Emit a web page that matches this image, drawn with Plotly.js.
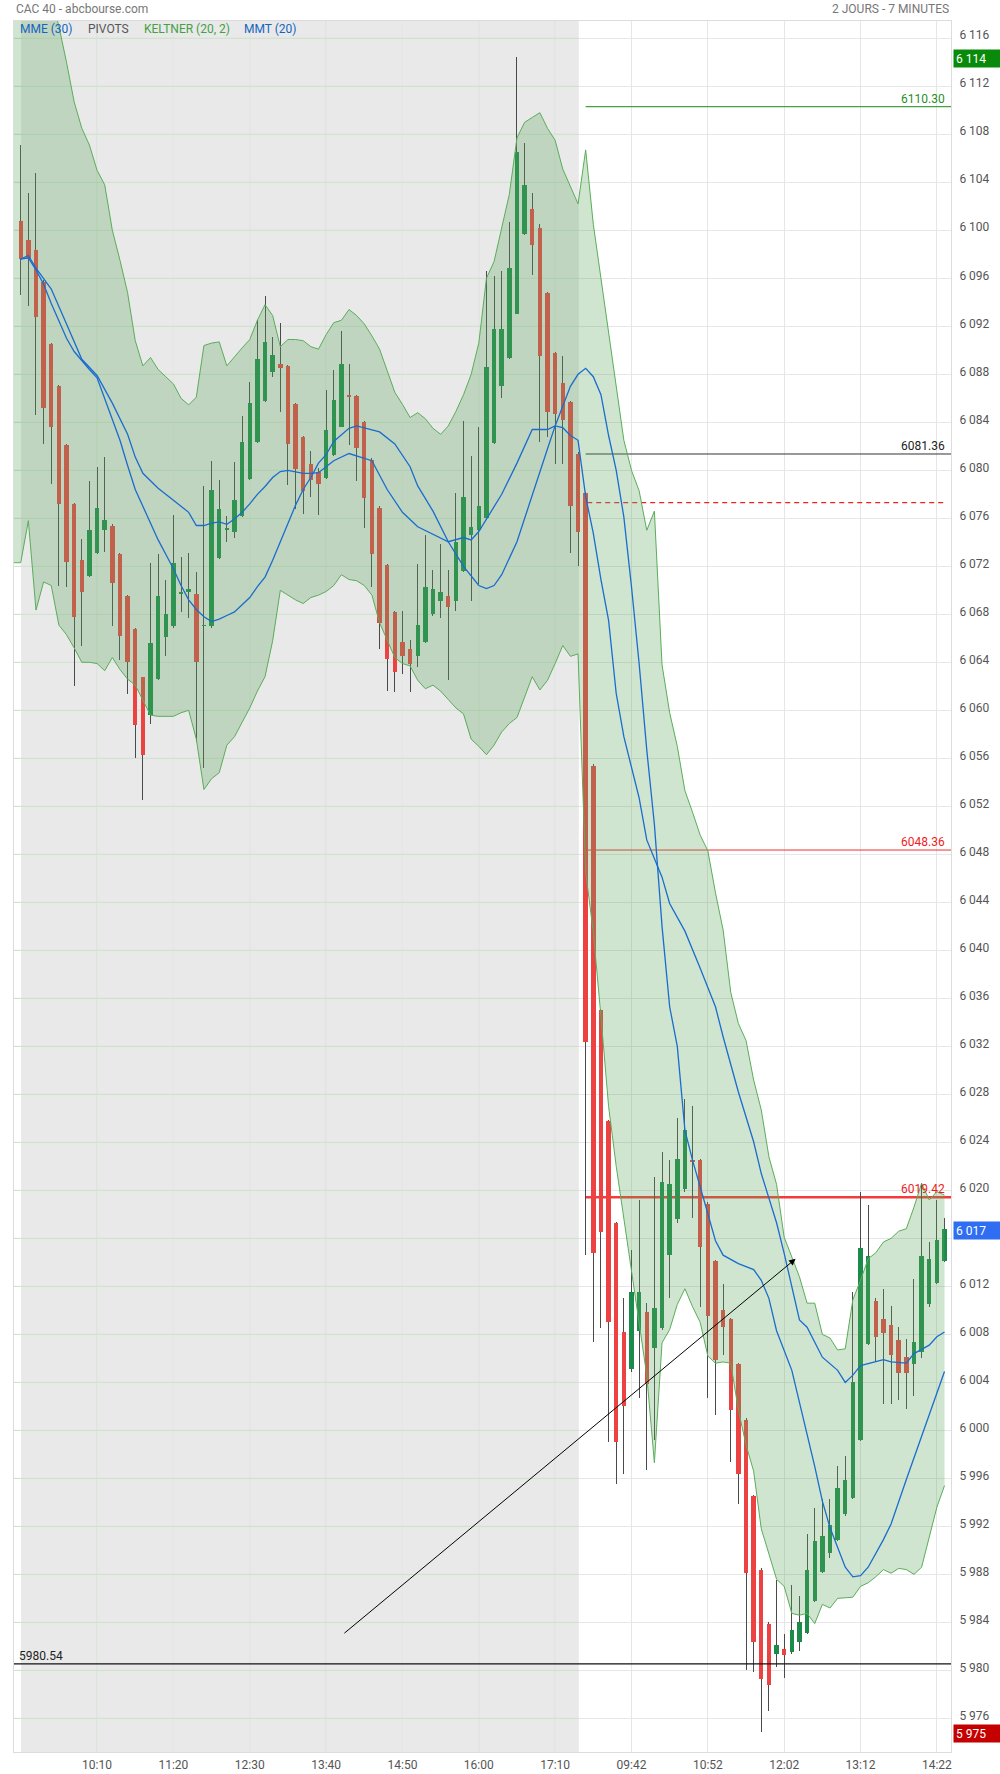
<!DOCTYPE html>
<html><head><meta charset="utf-8">
<script src="https://cdn.plot.ly/plotly-3.0.1.min.js"></script>
<style>html,body{margin:0;padding:0;background:#fff;}#chart{width:1000px;height:1774px;}</style>
</head><body><div id="chart"></div>
<script>
// ---- OHLC, 7-minute candles, index 0 = day 1 09:00, index 74 = day 2 09:00 ----
const opens = [
6100.75,6099.2,6098.4,6095.7,6090.5,6087.0,6082.1,6077.2,6072.5,6071.2,
6073.1,6075.0,6075.4,6073.0,6069.5,6066.8,6062.75,6059.6,6062.6,6066.1,
6067.0,6069.7,6069.9,6069.7,6067.0,6067.0,6072.7,6075.0,6074.9,6076.2,
6079.3,6082.4,6085.8,6088.2,6088.9,6088.7,6085.5,6082.8,6080.5,6079.9,
6079.4,6081.3,6083.65,6086.25,6086.2,6084.0,6080.9,6076.9,6072.15,6068.2,
6065.7,6065.1,6064.5,6065.7,6068.0,6069.1,6069.5,6069.1,6071.6,6074.6,
6075.0,6076.0,6082.3,6087.0,6089.4,6093.05,6099.7,6101.75,6100.2,6094.8,
6089.8,6087.25,6085.7,6081.4,6078.1,6055.4,6035.0,6025.8,6017.3,6008.2,
6005.1,6008.3,6009.9,6006.9,6008.55,6014.6,6017.6,6020.1,6022.5,6022.5,
6018.9,6014.1,6010.0,6009.3,6005.5,6000.9,5994.5,5988.4,5983.9,5981.4,
5981.75,5981.5,5982.4,5983.1,5985.8,5988.2,5989.75,5990.9,5993.0,5994.4,
5999.2,6007.2,6010.8,6009.25,6008.8,6007.5,6006.1,6005.5,6006.5,6010.5,
6012.3,6014.1];
const highs = [
6107.1,6103.1,6104.8,6095.9,6090.6,6087.1,6082.2,6077.3,6074.3,6079.1,
6080.3,6081.1,6075.5,6073.1,6069.6,6066.9,6062.8,6072.3,6073.0,6070.9,
6076.3,6072.8,6073.1,6071.5,6078.7,6080.8,6079.2,6076.2,6080.7,6084.5,
6087.4,6092.5,6094.5,6091.15,6092.3,6088.8,6085.6,6082.9,6081.6,6080.2,
6086.7,6088.4,6091.6,6088.9,6086.3,6084.1,6081.0,6077.0,6072.2,6068.3,
6068.3,6065.9,6072.2,6074.6,6071.7,6073.9,6071.7,6078.1,6084.1,6081.2,
6083.6,6096.6,6096.2,6096.6,6100.65,6114.4,6107.3,6103.1,6100.5,6094.9,
6089.9,6089.5,6085.8,6081.5,6078.2,6055.5,6035.1,6025.9,6017.4,6011.0,
6015.0,6019.2,6010.6,6021.1,6023.2,6022.5,6026.0,6027.6,6027.0,6022.6,
6019.0,6014.2,6012.2,6009.4,6005.6,6001.0,5994.6,5988.5,5984.0,5987.5,
5983.0,5987.1,5986.2,5991.4,5993.5,5994.3,5994.3,5997.0,5997.9,6011.5,
6019.9,6018.8,6011.0,6011.8,6010.4,6008.6,6007.6,6012.6,6020.6,6015.7,
6019.2,6017.7];
const lows = [
6094.6,6093.7,6084.6,6082.2,6078.9,6070.4,6070.3,6062.0,6065.4,6071.1,
6073.0,6073.2,6067.0,6064.2,6061.4,6056.0,6052.5,6058.85,6062.5,6064.55,
6066.9,6068.2,6067.7,6057.4,6055.2,6066.9,6072.6,6074.0,6074.4,6076.1,
6079.2,6082.3,6085.7,6087.8,6084.9,6078.8,6076.75,6076.4,6077.75,6076.3,
6079.3,6081.2,6083.6,6082.1,6079.1,6075.2,6070.3,6065.1,6061.6,6061.5,
6063.0,6061.5,6063.6,6065.6,6067.9,6067.7,6062.5,6068.3,6071.5,6069.15,
6070.5,6075.9,6082.2,6086.0,6089.3,6093.0,6099.6,6096.3,6082.4,6082.8,
6080.55,6080.55,6073.1,6072.05,6014.6,6007.4,6008.5,5999.05,5995.5,5996.4,
6004.9,6002.7,5996.7,5999.2,6008.4,6011.0,6017.3,6019.9,6017.7,6010.3,
6002.7,6001.3,6006.3,5997.4,5993.9,5980.0,5979.9,5974.9,5976.6,5980.3,
5979.4,5981.4,5981.6,5983.0,5985.7,5988.1,5989.4,5990.8,5992.9,5994.3,
5999.1,6007.1,6005.7,6002.2,6002.2,6002.5,6001.75,6002.9,6006.0,6010.3,
6012.2,6014.0];
const closes = [
6097.65,6097.65,6092.8,6085.2,6083.6,6077.2,6072.4,6067.8,6069.9,6075.0,
6076.9,6075.85,6070.6,6066.2,6064.0,6058.75,6056.3,6065.6,6069.5,6068.0,
6072.3,6069.75,6070.1,6064.0,6067.1,6078.4,6076.8,6075.2,6077.5,6082.4,
6085.6,6089.25,6090.7,6089.6,6088.5,6082.2,6080.1,6078.3,6079.2,6078.9,
6083.4,6085.9,6088.9,6086.1,6081.9,6077.7,6073.0,6067.3,6064.3,6063.2,
6064.5,6063.9,6067.1,6070.25,6070.1,6069.9,6068.6,6074.05,6077.75,6075.3,
6077.0,6088.6,6091.8,6091.8,6096.85,6106.5,6103.8,6098.75,6089.5,6084.9,
6084.7,6084.2,6077.0,6074.9,6032.4,6014.75,6016.5,6009.0,5999.05,6002.0,
6011.5,6011.5,6003.9,6010.2,6020.7,6020.5,6022.6,6025.0,6022.4,6015.3,
6009.5,6005.9,6008.6,6001.7,5996.4,5988.1,5982.4,5979.3,5978.8,5982.1,
5981.3,5983.4,5984.0,5988.4,5990.8,5991.2,5992.1,5995.2,5995.9,6004.0,
6015.2,6014.5,6007.75,6008.1,6006.3,6004.8,6004.8,6007.4,6014.5,6014.25,
6015.9,6016.8];

// ---- Keltner (20, 2) bands, from index -1 to 121 ----
const keltnerUpper = [
6123,6123,6122.5,6122,6121,6119.5,6117.0,6114.0,6110.7,6108.5,6107.1,
6105.0,6103.8,6100.0,6097.5,6094.8,6090.8,6088.7,6089.4,6088.4,6087.8,
6087.2,6086.0,6085.45,6086.1,6090.4,6090.6,6090.7,6088.7,6089.5,6090.2,
6090.9,6092.5,6093.8,6092.9,6090.3,6090.9,6090.9,6090.8,6090.3,6090.1,
6091.3,6092.3,6092.5,6093.4,6092.9,6092.2,6091.2,6090.1,6088.3,6086.5,
6085.5,6084.4,6084.8,6084.3,6083.5,6083.0,6083.7,6084.9,6086.3,6088.0,
6090.6,6096.0,6097.4,6100.1,6103.0,6107.7,6109.0,6109.4,6109.8,6108.5,
6107.5,6105.1,6103.7,6102.2,6106.7,6100.5,6096.0,6091.5,6087.0,6082.5,
6080.0,6078.3,6075.0,6076.6,6063.8,6059.8,6057.0,6053.3,6051.5,6049.6,
6048.3,6044.8,6041.7,6036.5,6033.9,6032.5,6029.2,6026.7,6022.8,6020.5,
6016.1,6014.5,6012.8,6010.6,6010.6,6008.0,6007.7,6006.7,6006.8,6010.9,
6012.5,6014.3,6014.8,6015.7,6016.0,6016.6,6016.8,6018.6,6020.6,6019.2,
6019.9,6019.6];
const keltnerLower = [
6072.3,6072.3,6075.8,6068.35,6070.7,6070.4,6067.1,6066.3,6065.2,6064.0,6064.0,
6063.9,6063.3,6064.4,6063.4,6062.6,6062.1,6060.9,6059.6,6059.5,6059.5,
6059.5,6059.8,6060.0,6057.6,6053.4,6054.3,6054.8,6057.1,6057.8,6059.0,
6060.2,6061.6,6062.8,6065.8,6070.0,6069.6,6069.2,6068.9,6069.4,6069.6,
6069.9,6070.4,6071.3,6070.9,6070.8,6070.4,6069.6,6067.3,6065.8,6064.4,
6063.9,6063.7,6062.5,6061.8,6062.1,6061.6,6060.9,6060.2,6059.7,6057.6,
6057.0,6056.3,6057.1,6058.2,6058.9,6059.4,6061.1,6062.8,6061.7,6062.5,
6063.9,6065.4,6064.5,6064.7,6046.5,6041.5,6034.5,6027.0,6022.0,6017.7,
6013.6,6009.2,6004.6,5997.3,6007.3,6008.4,6010.5,6011.8,6010.3,6009.0,
6006.2,6005.6,6005.7,6005.6,6001.7,5998.8,5996.6,5991.8,5989.7,5987.6,
5987.0,5984.75,5984.6,5984.75,5983.9,5985.5,5985.2,5986.0,5986.05,5986.1,
5987.0,5987.3,5987.8,5988.4,5988.1,5988.5,5988.4,5988.0,5988.6,5991.0,
5993.6,5995.4];

// ---- MME (30) ----
const mmeIdx = [0,1,2,4,6,8,10,11,12,14,15,16,18,20,21,22,23,24,25,26,27,28,29,30,31,32,33,34,35,36,37,38,39,40,41,43,46,48,50,52,54,56,58,59,60,62,63,65,67,69,70,71,72,73,74,75,76,77,78,79,80,81,82,84,85,87,89,91,92,94,96,97,99,100,102,103,105,107,108,109,110,112,113,114,116,117,119,120,121];
const mmeVals = [6097.6,6097.9,6096.85,6095.1,6092.2,6089.25,6087.9,6086.8,6085.6,6083.0,6081.1,6079.75,6078.5,6077.5,6077.0,6076.5,6075.4,6075.4,6075.6,6075.7,6075.5,6075.95,6076.5,6077.2,6078.0,6078.65,6079.4,6079.9,6080.0,6079.85,6079.75,6079.75,6079.8,6080.3,6080.8,6081.4,6080.8,6078.4,6076.5,6075.3,6074.7,6074.05,6074.4,6074.2,6074.9,6077.0,6078.0,6080.6,6083.4,6083.4,6083.7,6083.55,6082.9,6082.5,6077.8,6074.75,6070.9,6067.5,6061.4,6057.8,6055.3,6052.7,6049.2,6046.1,6043.9,6041.6,6038.5,6035.3,6032.8,6028.2,6024.05,6021.4,6017.3,6014.75,6009.2,6008.6,6006.1,6005.0,6004.0,6004.6,6005.4,6005.7,6005.9,6005.7,6005.6,6006.4,6007.1,6007.8,6008.2];

// ---- MMT (20) ----
const mmtIdx = [0,1,2,3,4,5,6,7,8,9,10,11,12,13,14,15,16,17,18,19,20,21,22,23,24,25,26,27,28,29,30,31,32,33,34,35,36,37,38,39,40,41,43,44,47,49,51,52,54,56,58,60,61,62,63,65,67,69,70,72,73,74,75,76,77,78,79,80,81,82,83,84,85,86,87,88,89,90,91,92,94,96,97,98,99,101,103,104,105,106,108,109,110,111,113,114,116,118,120,121];
const mmtVals = [6097.6,6097.7,6096.7,6095.5,6093.9,6092.5,6091.0,6089.9,6089.1,6088.4,6087.7,6086.0,6084.2,6082.5,6080.4,6078.4,6077.0,6075.6,6074.2,6073.0,6071.8,6070.4,6069.2,6068.4,6067.8,6067.4,6067.6,6067.9,6068.2,6068.8,6069.4,6070.3,6071.1,6072.5,6074.05,6075.6,6077.1,6078.4,6079.4,6080.6,6081.3,6082.4,6083.5,6083.7,6083.2,6082.2,6080.3,6078.7,6076.6,6074.05,6072.0,6070.4,6070.15,6070.4,6071.3,6074.05,6078.0,6081.8,6083.7,6087.0,6088.0,6088.5,6087.8,6086.3,6082.9,6080.0,6076.1,6070.3,6063.9,6056.7,6050.5,6042.0,6035.3,6032.0,6025.0,6022.5,6020.3,6018.0,6015.8,6014.6,6013.9,6013.4,6012.5,6011.0,6008.3,6005.0,5999.8,5997.0,5994.1,5991.9,5988.6,5987.8,5987.9,5988.6,5990.9,5992.2,5995.9,5999.5,6003.2,6004.9];

// ---- Pivots and drawings ----
const pivotLevels = [6110.30, 6081.36, 6048.36, 6019.42];
const pivotLabels = ['6110.30', '6081.36', '6048.36', '6019.42'];
const pivotStartIdx = 74;
const pivotDashedLevel = 6077.3;
const pivotDashedSpan = [74.2, 121.15];
const supportLevel = 5980.54;
const supportLabel = '5980.54';
const trendFrom = [42.2, 5983.0];
const trendTo = [101.5, 6014.3];

// ---- Axes ----
const xTickVals = [10,20,30,40,50,60,70,80,90,100,110,120];
const xTickText = ['10:10','11:20','12:30','13:40','14:50','16:00','17:10','09:42','10:52','12:02','13:12','14:22'];
const day1Span = [0, 73];
const yTickVals = [];
for (let v = 5976; v <= 6116; v += 4) yTickVals.push(v);
const hiddenTick = 6016;

const X_RANGE = [-0.88, 121.85];
const Y_RANGE = [5973.2, 6117.44];

const fmt = v => { const r = Math.round(v); return Math.floor(r/1000) + ' ' + String(r % 1000).padStart(3, '0'); };
const yTickText = yTickVals.map(v => v === hiddenTick ? '' : fmt(v));

const idx = opens.map((_, i) => i);
const UP = '#1c8a4a', DOWN = '#ec4242';
const wickTrace = {
  type: 'bar', x: idx, base: lows, y: idx.map(i => highs[i] - lows[i]),
  width: 0.13, marker: {color: '#4a4a4a', line: {width: 0}}, hoverinfo: 'skip'
};
const bodyTrace = {
  type: 'bar', x: idx,
  base: idx.map(i => Math.min(opens[i], closes[i])),
  y: idx.map(i => Math.max(Math.abs(closes[i] - opens[i]), 0.12)),
  width: 0.58, marker: {color: idx.map(i => closes[i] >= opens[i] ? UP : DOWN), line: {width: 0}},
  hoverinfo: 'skip'
};
const bandX = keltnerUpper.map((_, k) => k - 1);
const bandLine = {color: '#5aad5a', width: 1};
const lowerTrace = {type: 'scatter', mode: 'lines', x: bandX, y: keltnerLower, line: bandLine, hoverinfo: 'skip'};
const upperTrace = {type: 'scatter', mode: 'lines', x: bandX, y: keltnerUpper, line: bandLine,
  fill: 'tonexty', fillcolor: 'rgba(95,168,95,0.30)', hoverinfo: 'skip'};
const mmeTrace = {type: 'scatter', mode: 'lines', x: mmeIdx, y: mmeVals, line: {color: '#1a6ccf', width: 1.3}, hoverinfo: 'skip'};
const mmtTrace = {type: 'scatter', mode: 'lines', x: mmtIdx, y: mmtVals, line: {color: '#1a6ccf', width: 1.3}, hoverinfo: 'skip'};

const GRID_DAY1 = '#cce2cc';
const shapes = [];
shapes.push({type: 'rect', xref: 'x', yref: 'paper', x0: day1Span[0] + 0.05, x1: day1Span[1] + 0.1, y0: 0, y1: 1,
  fillcolor: '#e9e9e9', line: {width: 0}, layer: 'below'});
yTickVals.forEach(v => shapes.push({type: 'line', xref: 'x', yref: 'y', x0: X_RANGE[0], x1: day1Span[1] + 0.1, y0: v, y1: v,
  line: {color: GRID_DAY1, width: 1}, layer: 'between'}));
xTickVals.filter(t => t <= day1Span[1]).forEach(t => shapes.push({type: 'line', xref: 'x', yref: 'paper', x0: t, x1: t, y0: 0, y1: 1,
  line: {color: GRID_DAY1, width: 1}, layer: 'between'}));
const pivotStyles = [
  {color: '#43a043', width: 1.3}, {color: '#333333', width: 1}, {color: '#ee3030', width: 1}, {color: '#f23c3c', width: 2.6}
];
const pivotTextColors = ['#1f8f1f', '#222222', '#f01c1c', '#f01c1c'];
pivotLevels.forEach((lv, k) => shapes.push({type: 'line', xref: 'x', yref: 'y', x0: pivotStartIdx, x1: X_RANGE[1], y0: lv, y1: lv,
  line: pivotStyles[k], layer: 'between'}));
shapes.push({type: 'line', xref: 'x', yref: 'y', x0: pivotDashedSpan[0], x1: pivotDashedSpan[1], y0: pivotDashedLevel, y1: pivotDashedLevel,
  line: {color: '#ee2222', width: 1.2, dash: '5px,4px'}, layer: 'between'});
shapes.push({type: 'line', xref: 'paper', yref: 'y', x0: 0, x1: 1, y0: supportLevel, y1: supportLevel,
  line: {color: '#111111', width: 1.4}, layer: 'above'});

const F = 'Roboto, Arial, sans-serif';
const annotations = [];
annotations.push({xref: 'paper', yref: 'paper', x: 0, y: 1, xanchor: 'left', yanchor: 'bottom', yshift: 3, showarrow: false,
  text: 'CAC 40 - abcbourse.com', font: {family: F, size: 12, color: '#777'}});
annotations.push({xref: 'paper', yref: 'paper', x: 1, y: 1, xanchor: 'right', yanchor: 'bottom', yshift: 3, showarrow: false,
  text: '2 JOURS - 7 MINUTES', font: {family: F, size: 12, color: '#777'}});
const legendItems = [
  {text: 'MME (30)', color: '#1565c0', shift: 4},
  {text: 'PIVOTS', color: '#555555', shift: 72},
  {text: 'KELTNER (20, 2)', color: '#43a047', shift: 128},
  {text: 'MMT (20)', color: '#1565c0', shift: 228}
];
legendItems.forEach(it => annotations.push({xref: 'paper', yref: 'paper', x: 0, y: 1, xanchor: 'left', yanchor: 'middle',
  xshift: it.shift, yshift: -8, showarrow: false, text: it.text, font: {family: F, size: 12, color: it.color}}));
pivotLevels.forEach((lv, k) => annotations.push({xref: 'paper', yref: 'y', x: 1, y: lv, xanchor: 'right', yanchor: 'bottom',
  xshift: -4, yshift: -1, showarrow: false, text: pivotLabels[k], font: {family: F, size: 12, color: pivotTextColors[k]}}));
annotations.push({xref: 'paper', yref: 'y', x: 0, y: supportLevel, xanchor: 'left', yanchor: 'bottom',
  xshift: 3, yshift: -1, showarrow: false, text: supportLabel, font: {family: F, size: 12, color: '#222'}});
annotations.push({xref: 'x', yref: 'y', axref: 'x', ayref: 'y', x: trendTo[0], y: trendTo[1], ax: trendFrom[0], ay: trendFrom[1],
  showarrow: true, arrowhead: 2, arrowsize: 1.3, arrowwidth: 1, arrowcolor: '#000', text: '', standoff: 0, startstandoff: 0});
const maxHigh = Math.max(...highs), minLow = Math.min(...lows), lastClose = closes[closes.length - 1];
[[maxHigh, '#0a8a0a'], [lastClose, '#2f6df2'], [minLow, '#c40000']].forEach(([v, bg]) => annotations.push({
  xref: 'paper', yref: 'y', x: 1, y: v, xanchor: 'left', yanchor: 'middle', xshift: 2, yshift: -1.5,
  showarrow: false, text: fmt(v), bgcolor: bg, width: 43, height: 13, align: 'left', borderpad: 2,
  font: {family: F, size: 12, color: '#ffffff'}}));

const layout = {
  width: 1000, height: 1774,
  margin: {l: 14, r: 49, t: 21, b: 22, pad: 0},
  paper_bgcolor: '#ffffff', plot_bgcolor: '#ffffff',
  showlegend: false, hovermode: false,
  barmode: 'overlay', bargap: 0,
  font: {family: F, size: 12, color: '#555'},
  xaxis: {range: X_RANGE, tickvals: xTickVals, ticktext: xTickText, showgrid: true, gridcolor: '#e6e6e6', gridwidth: 1,
    zeroline: false, showline: true, linecolor: '#dcdcdc', linewidth: 1, mirror: true, ticks: '',
    tickfont: {family: F, size: 12, color: '#555'}, ticklabelstandoff: 2},
  yaxis: {range: Y_RANGE, side: 'right', tickvals: yTickVals, ticktext: yTickText, showgrid: true, gridcolor: '#e6e6e6',
    zeroline: false, showline: true, linecolor: '#dcdcdc', linewidth: 1, mirror: true, ticks: '',
    tickfont: {family: F, size: 12, color: '#555'}, ticklabelstandoff: 5, ticklabelshift: -3},
  shapes: shapes, annotations: annotations
};
Plotly.newPlot('chart', [wickTrace, bodyTrace, lowerTrace, upperTrace, mmeTrace, mmtTrace], layout, {staticPlot: true, displayModeBar: false});
</script></body></html>
